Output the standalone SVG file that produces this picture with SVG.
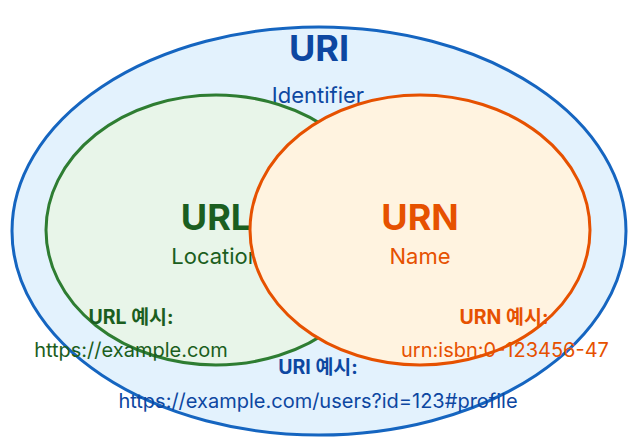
<svg xmlns="http://www.w3.org/2000/svg" width="638" height="448" viewBox="0 0 638 448">
<style>
text{font-family:Inter,"Noto Sans CJK KR",sans-serif;text-anchor:middle}
.t{font-weight:700;font-size:36px}
.s{font-size:22px}
.eh{font-weight:700;font-size:19.5px}
.ev{font-size:20px}
.uri{fill:#0d47a1}
.url{fill:#1b5e20}
.urn{fill:#e65100}
</style>
<rect width="638" height="448" fill="#ffffff"/>
<g id="uri">
<ellipse cx="319" cy="231" rx="307" ry="204" fill="#e3f2fd" stroke="#1565c0" stroke-width="3"/>
<text class="t uri" x="319" y="61">URI</text>
<text class="s uri" x="318" y="103">Identifier</text>
</g>
<g id="url">
<ellipse cx="216" cy="230" rx="170" ry="135" fill="#e8f5e9" stroke="#2e7d32" stroke-width="3"/>
<text class="t url" x="216" y="230">URL</text>
<text class="s url" x="216" y="264">Location</text>
</g>
<g id="urn">
<ellipse cx="420" cy="230" rx="170" ry="135" fill="#fff3e0" stroke="#e65100" stroke-width="3"/>
<text class="t urn" x="420" y="230">URN</text>
<text class="s urn" x="420" y="264">Name</text>
</g>
<g id="examples">
<text class="eh url" x="131" y="324">URL 예시:</text>
<text class="ev url" x="131" y="357">https://example.com</text>
<text class="eh urn" x="504" y="324">URN 예시:</text>
<text class="ev urn" x="505" y="357">urn:isbn:0-123456-47</text>
<text class="eh uri" x="318" y="374">URI 예시:</text>
<text class="ev uri" x="318" y="408">https://example.com/users?id=123#profile</text>
</g>
</svg>
